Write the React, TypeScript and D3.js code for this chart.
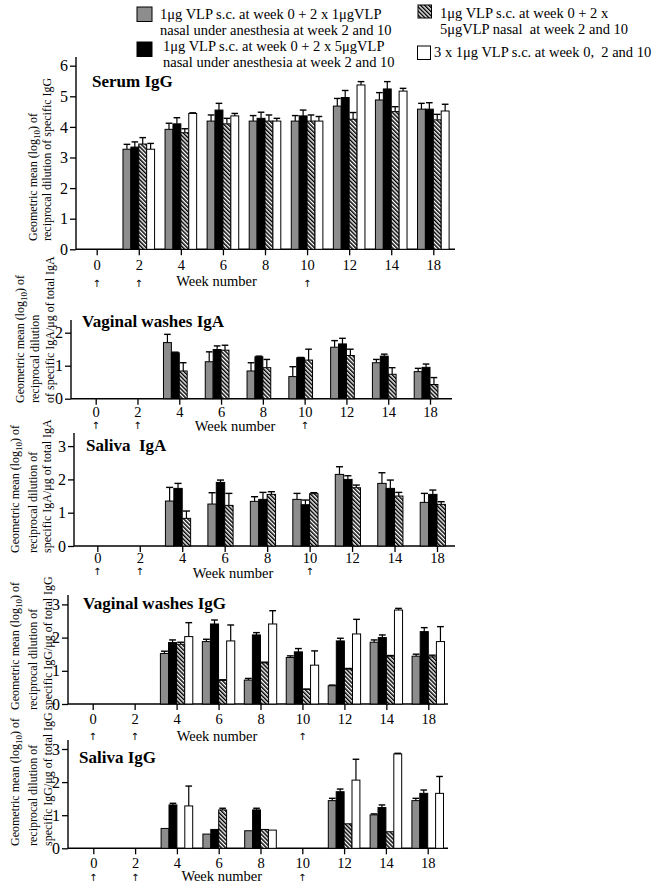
import * as d3 from 'd3';
import { useEffect, useRef } from 'react';

const weeks = ['0', '2', '4', '6', '8', '10', '12', '14', '18'];
const arrowWeeks = ['0', '2', '10'];

// Serum IgG
const serumGray = [null, 3.27, 3.92, 4.19, 4.19, 4.19, 4.68, 4.88, 4.58];
const serumGrayErr = [0, 0.16, 0.2, 0.2, 0.18, 0.18, 0.25, 0.24, 0.19];
const serumBlack = [null, 3.34, 4.1, 4.55, 4.28, 4.36, 4.96, 5.24, 4.58];
const serumBlackErr = [0, 0.17, 0.2, 0.22, 0.2, 0.19, 0.23, 0.24, 0.21];
const serumHatch = [null, 3.44, 3.81, 4.1, 4.19, 4.19, 4.25, 4.5, 4.23];
const serumHatchErr = [0, 0.21, 0.13, 0.18, 0.2, 0.2, 0.22, 0.16, 0.18];
const serumWhite = [null, 3.27, 4.44, 4.36, 4.19, 4.19, 5.37, 5.17, 4.52];
const serumWhiteErr = [0, 0.19, 0.02, 0.08, 0.09, 0.15, 0.11, 0.09, 0.22];

// Vaginal washes IgA
const vwIgaGray = [null, null, 1.7, 1.12, 0.84, 0.67, 1.56, 1.09, 0.82];
const vwIgaGrayErr = [0, 0, 0.25, 0.3, 0.25, 0.3, 0.2, 0.1, 0.1];
const vwIgaBlack = [null, null, 1.39, 1.49, 1.27, 1.24, 1.66, 1.29, 0.95];
const vwIgaBlackErr = [0, 0, 0.02, 0.11, 0.02, 0.01, 0.17, 0.06, 0.1];
const vwIgaHatch = [null, null, 0.84, 1.47, 0.94, 1.17, 1.31, 0.74, 0.43];
const vwIgaHatchErr = [0, 0, 0.25, 0.15, 0.25, 0.33, 0.19, 0.2, 0.21];

// Saliva IgA
const salIgaGray = [null, null, 1.35, 1.26, 1.34, 1.4, 2.15, 1.88, 1.31];
const salIgaGrayErr = [0, 0, 0.41, 0.34, 0.14, 0.18, 0.23, 0.32, 0.27];
const salIgaBlack = [null, null, 1.73, 1.91, 1.4, 1.24, 2.0, 1.73, 1.55];
const salIgaBlackErr = [0, 0, 0.15, 0.07, 0.21, 0.14, 0.11, 0.25, 0.13];
const salIgaHatch = [null, null, 0.83, 1.22, 1.55, 1.57, 1.75, 1.5, 1.25];
const salIgaHatchErr = [0, 0, 0.22, 0.36, 0.08, 0.03, 0.08, 0.11, 0.08];

// Vaginal washes IgG
const vwIggGray = [null, null, 1.52, 1.88, 0.72, 1.4, 0.55, 1.86, 1.44];
const vwIggGrayErr = [0, 0, 0.07, 0.07, 0.05, 0.05, 0.02, 0.07, 0.06];
const vwIggBlack = [null, null, 1.85, 2.41, 2.08, 1.57, 1.9, 2.0, 2.18];
const vwIggBlackErr = [0, 0, 0.08, 0.12, 0.07, 0.1, 0.08, 0.08, 0.12];
const vwIggHatch = [null, null, 1.8, 0.71, 1.24, 0.44, 1.05, 1.44, 1.42];
const vwIggHatchErr = [0, 0, 0.06, 0.02, 0.02, 0.01, 0.02, 0.02, 0.05];
const vwIggWhite = [null, null, 2.03, 1.9, 2.41, 1.17, 2.11, 2.83, 1.88];
const vwIggWhiteErr = [0, 0, 0.42, 0.48, 0.4, 0.43, 0.44, 0.05, 0.45];

// Saliva IgG
const salIggGray = [null, null, 0.6, 0.43, 0.53, null, 1.44, 1.01, 1.44];
const salIggGrayErr = [0, 0, 0, 0, 0, 0, 0.07, 0.03, 0.07];
const salIggBlack = [null, null, 1.31, 0.57, 1.16, null, 1.71, 1.23, 1.66];
const salIggBlackErr = [0, 0, 0.05, 0, 0.05, 0, 0.08, 0.08, 0.1];
const salIggHatch = [null, null, null, 1.16, 0.57, null, 0.74, 0.5, null];
const salIggHatchErr = [0, 0, 0, 0.05, 0, 0, 0, 0, 0];
const salIggWhite = [null, null, 1.28, null, 0.55, null, 2.06, 2.85, 1.66];
const salIggWhiteErr = [0, 0, 0.6, 0, 0, 0, 0.63, 0.02, 0.51];

const serif = '"Liberation Serif", "Times New Roman", serif';
const fills = ['#8d8d8d', '#000', 'url(#hatch)', '#fff'];

const labelIgA = ['reciprocal dilution', 'of specific IgA/μg of total IgA'];
const labelSalIgA = ['reciprocal dilution of', 'specific IgA/μg of total IgA'];
const labelIgG = ['reciprocal dilution of', 'specific IgG/μg of total IgG'];

type Panel = {
  title: string;
  series: (number | null)[][];
  errs: number[][];
  yMax: number;
  yAxisX: number;
  xFirst: number;
  xLast: number;
  xEnd: number;
  y0: number;
  yUnit: number;
  yTop: number;
  barW: number;
  titleX: number;
  titleY: number;
  tickBase: number;
  arrowY: number;
  weekX: number;
  weekY: number;
  label: string[];
  labelX: number[];
  labelBottom: number;
};

const panels: Panel[] = [
  {
    title: 'Serum IgG',
    series: [serumGray, serumBlack, serumHatch, serumWhite],
    errs: [serumGrayErr, serumBlackErr, serumHatchErr, serumWhiteErr],
    yMax: 6, yAxisX: 76, xFirst: 96.7, xLast: 433.3, xEnd: 455,
    y0: 249.3, yUnit: 30.6, yTop: 57, barW: 7.9,
    titleX: 92, titleY: 87, tickBase: 20.7, arrowY: 287, weekX: 216.5, weekY: 286,
    label: ['reciprocal dilution of specific IgG'], labelX: [33, 47], labelBottom: 241,
  },
  {
    title: 'Vaginal washes IgA',
    series: [vwIgaGray, vwIgaBlack, vwIgaHatch],
    errs: [vwIgaGrayErr, vwIgaBlackErr, vwIgaHatchErr],
    yMax: 2, yAxisX: 71, xFirst: 95.7, xLast: 430, xEnd: 452,
    y0: 398.7, yUnit: 33, yTop: 320, barW: 7.9,
    titleX: 82, titleY: 327, tickBase: 18.4, arrowY: 429, weekX: 235, weekY: 430.5,
    label: labelIgA, labelX: [20, 35, 50], labelBottom: 403,
  },
  {
    title: 'Saliva  IgA',
    series: [salIgaGray, salIgaBlack, salIgaHatch],
    errs: [salIgaGrayErr, salIgaBlackErr, salIgaHatchErr],
    yMax: 3, yAxisX: 74, xFirst: 97.3, xLast: 437, xEnd: 455,
    y0: 546, yUnit: 33.3, yTop: 433, barW: 8.4,
    titleX: 86, titleY: 450.7, tickBase: 16.7, arrowY: 575, weekX: 233, weekY: 577.5,
    label: labelSalIgA, labelX: [15, 33, 47], labelBottom: 553,
  },
  {
    title: 'Vaginal washes IgG',
    series: [vwIggGray, vwIggBlack, vwIggHatch, vwIggWhite],
    errs: [vwIggGrayErr, vwIggBlackErr, vwIggHatchErr, vwIggWhiteErr],
    yMax: 3, yAxisX: 68, xFirst: 92.7, xLast: 428.3, xEnd: 448,
    y0: 704, yUnit: 33.2, yTop: 595, barW: 8.1,
    titleX: 83, titleY: 609, tickBase: 20.3, arrowY: 739.5, weekX: 217, weekY: 740.5,
    label: labelIgG, labelX: [15, 33, 48], labelBottom: 710,
  },
  {
    title: 'Saliva IgG',
    series: [salIggGray, salIggBlack, salIggHatch, salIggWhite],
    errs: [salIggGrayErr, salIggBlackErr, salIggHatchErr, salIggWhiteErr],
    yMax: 3, yAxisX: 68, xFirst: 93.3, xLast: 427.7, xEnd: 448,
    y0: 848.3, yUnit: 33.1, yTop: 740, barW: 7.9,
    titleX: 79, titleY: 763.3, tickBase: 19.4, arrowY: 881, weekX: 221.7, weekY: 881,
    label: labelIgG, labelX: [15, 33, 48], labelBottom: 846,
  },
];

const legendItems = [
  { fill: fills[0], box: [137, 7, 15, 14.5], lines: ['1μg VLP s.c. at week 0 + 2 x 1μgVLP', 'nasal under anesthesia at week 2 and 10'], tx: 160, ty: [19, 35] },
  { fill: fills[1], box: [137, 42, 15, 14.5], lines: ['1μg VLP s.c. at week 0 + 2 x 5μgVLP', 'nasal under anesthesia at week 2 and 10'], tx: 163, ty: [51, 66.5] },
  { fill: fills[2], box: [418, 5, 13.5, 13], lines: ['1μg VLP s.c. at week 0 + 2 x', '5μgVLP nasal  at week 2 and 10'], tx: 440, ty: [17.5, 33.5] },
  { fill: fills[3], box: [417.5, 46, 13, 13.5], lines: ['3 x 1μg VLP s.c. at week 0,  2 and 10'], tx: 434, ty: [57] },
];

export default function App() {
  const ref = useRef<SVGSVGElement | null>(null);

  useEffect(() => {
    if (!ref.current) return;
    const svg = d3.select(ref.current);
    svg.selectAll('*').remove();

    const pat = svg
      .append('defs')
      .append('pattern')
      .attr('id', 'hatch')
      .attr('patternUnits', 'userSpaceOnUse')
      .attr('width', 2.9)
      .attr('height', 2.9)
      .attr('patternTransform', 'rotate(-45)');
    pat.append('rect').attr('width', 2.9).attr('height', 2.9).attr('fill', '#fff');
    pat.append('rect').attr('width', 1.5).attr('height', 2.9).attr('fill', '#000');

    // legend
    const leg = svg.append('g').attr('font-family', serif).attr('font-size', 14.5);
    legendItems.forEach((it) => {
      leg
        .append('rect')
        .attr('x', it.box[0])
        .attr('y', it.box[1])
        .attr('width', it.box[2])
        .attr('height', it.box[3])
        .attr('fill', it.fill)
        .attr('stroke', '#000')
        .attr('stroke-width', 1);
      it.lines.forEach((t, i) => {
        leg
          .append('text')
          .attr('x', it.tx)
          .attr('y', it.ty[i])
          .style('white-space', 'pre')
          .text(t);
      });
    });

    panels.forEach((p) => {
      const g = svg.append('g');
      const x = d3.scalePoint<string>().domain(weeks).range([p.xFirst, p.xLast]);
      const y = d3
        .scaleLinear()
        .domain([0, p.yMax])
        .range([p.y0, p.y0 - p.yMax * p.yUnit]);
      const sub = d3
        .scaleBand<number>()
        .domain([0, 1, 2, 3])
        .range([-2 * p.barW, 2 * p.barW]);

      // y axis
      const yAx = g
        .append('g')
        .attr('transform', `translate(${p.yAxisX},0)`)
        .call(d3.axisLeft(y).tickValues(d3.range(0, p.yMax + 1)).tickFormat(d3.format('d')).tickSize(6).tickPadding(2).tickSizeOuter(0));
      yAx.select('.domain').remove();
      yAx.selectAll('line').attr('stroke-width', 1.3);
      yAx.selectAll('text').attr('font-family', serif).attr('font-size', 16).attr('fill', '#000');
      g.append('line')
        .attr('x1', p.yAxisX)
        .attr('x2', p.yAxisX)
        .attr('y1', p.y0)
        .attr('y2', p.yTop)
        .attr('stroke', '#000')
        .attr('stroke-width', 1.4);

      // x axis
      const xAx = g
        .append('g')
        .attr('transform', `translate(0,${p.y0})`)
        .call(d3.axisBottom(x).tickSize(6).tickPadding(p.tickBase - 6 - 10.3).tickSizeOuter(0));
      xAx.select('.domain').remove();
      xAx.selectAll('line').attr('stroke-width', 1.3);
      xAx.selectAll('text').attr('font-family', serif).attr('font-size', 14.5).attr('fill', '#000');
      g.append('line')
        .attr('x1', p.yAxisX)
        .attr('x2', p.xEnd)
        .attr('y1', p.y0)
        .attr('y2', p.y0)
        .attr('stroke', '#000')
        .attr('stroke-width', 1.4);

      // bars and error bars
      p.series.forEach((vals, s) => {
        vals.forEach((v, i) => {
          if (v == null) return;
          const bx = (x(weeks[i]) ?? 0) + (sub(s) ?? 0);
          const bw = sub.bandwidth();
          const e = p.errs[s][i];
          if (e > 0) {
            const cx = bx + bw / 2;
            g.append('line')
              .attr('x1', cx).attr('x2', cx)
              .attr('y1', y(v)).attr('y2', y(v + e))
              .attr('stroke', '#000').attr('stroke-width', 1.2);
            g.append('line')
              .attr('x1', cx - bw * 0.42).attr('x2', cx + bw * 0.42)
              .attr('y1', y(v + e)).attr('y2', y(v + e))
              .attr('stroke', '#000').attr('stroke-width', 1.4);
          }
          g.append('rect')
            .attr('x', bx)
            .attr('y', y(v))
            .attr('width', bw)
            .attr('height', y(0) - y(v))
            .attr('fill', fills[s])
            .attr('stroke', '#000')
            .attr('stroke-width', 1);
        });
      });

      // title
      g.append('text')
        .attr('x', p.titleX)
        .attr('y', p.titleY)
        .attr('font-family', serif)
        .attr('font-size', 17)
        .attr('font-weight', 'bold')
        .style('white-space', 'pre')
        .text(p.title);

      // arrows under the immunisation weeks
      arrowWeeks.forEach((w) => {
        g.append('text')
          .attr('x', x(w) ?? 0)
          .attr('y', p.arrowY)
          .attr('text-anchor', 'middle')
          .attr('font-family', '"DejaVu Sans", sans-serif')
          .attr('font-size', 10)
          .attr('fill', '#000')
          .text('↑');
      });

      g.append('text')
        .attr('x', p.weekX)
        .attr('y', p.weekY)
        .attr('text-anchor', 'middle')
        .attr('font-family', serif)
        .attr('font-size', 14.5)
        .text('Week number');

      // rotated y label
      const first = g
        .append('text')
        .attr('transform', `translate(${p.labelX[0] + 4},${p.labelBottom}) rotate(-90)`)
        .attr('font-family', serif)
        .attr('font-size', 12);
      first.append('tspan').text('Geometric mean (log');
      first.append('tspan').attr('font-size', 9).attr('dy', 3).text('10');
      first.append('tspan').attr('dy', -3).text(') of');
      p.label.forEach((t, i) => {
        g.append('text')
          .attr('transform', `translate(${p.labelX[i + 1] + 4},${p.labelBottom}) rotate(-90)`)
          .attr('font-family', serif)
          .attr('font-size', 12)
          .text(t);
      });
    });
  }, []);

  return (
    <svg
      ref={ref}
      width={668}
      height={892}
      style={{ position: 'absolute', left: 0, top: 0, background: '#fff' }}
    />
  );
}
